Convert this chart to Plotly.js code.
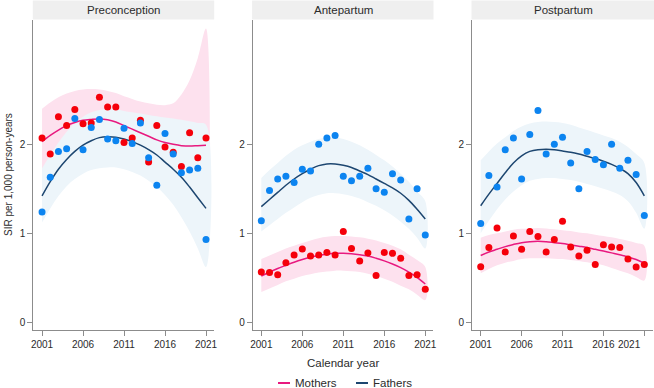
<!DOCTYPE html>
<html>
<head>
<meta charset="utf-8">
<script src="https://cdn.plot.ly/plotly-3.0.1.min.js"></script>
<style>
  html, body { margin: 0; padding: 0; background: #ffffff; overflow: hidden; }
  #chart { width: 654px; height: 388px; }
</style>
</head>
<body>
<div id="chart"></div>
<script>
// Calendar years and panel names
const years = [2001, 2002, 2003, 2004, 2005, 2006, 2007, 2008, 2009, 2010, 2011,
               2012, 2013, 2014, 2015, 2016, 2017, 2018, 2019, 2020, 2021];
const periods = ["Preconception", "Antepartum", "Postpartum"];
const xTickVals = [2001, 2006, 2011, 2016, 2021];
const xTickText = ["2001", "2006", "2011", "2016", "2021"];
const yTickVals = [0, 1, 2];

// ---- Preconception ----
const preMothersObs = [2.07, 1.89, 2.31, 2.21, 2.39, 2.23, 2.24, 2.53, 2.42, 2.42, 2.02,
                       2.07, 2.27, 1.80, 2.21, 1.97, 1.91, 1.75, 2.13, 1.85, 2.07];
const preFathersObs = [1.24, 1.63, 1.92, 1.95, 2.29, 1.94, 2.19, 2.28, 2.06, 2.04, 2.18,
                       2.01, 2.24, 1.85, 1.54, 2.12, 1.89, 1.68, 1.71, 1.73, 0.93];
const preMothersFit = [2.03, 2.10, 2.16, 2.21, 2.245, 2.27, 2.28, 2.285, 2.275, 2.25, 2.21,
                       2.17, 2.13, 2.09, 2.05, 2.02, 2.00, 1.985, 1.98, 1.985, 1.99];
const preMothersUpper = [2.40, 2.47, 2.53, 2.57, 2.60, 2.615, 2.62, 2.615, 2.60, 2.575, 2.54,
                         2.51, 2.48, 2.46, 2.445, 2.44, 2.46, 2.56, 2.72, 2.97, 3.30];
const preMothersLower = [1.68, 1.76, 1.83, 1.87, 1.90, 1.93, 1.94, 1.95, 1.95, 1.93, 1.89,
                         1.85, 1.80, 1.75, 1.69, 1.62, 1.55, 1.45, 1.30, 1.05, 0.70];
const preFathersFit = [1.42, 1.58, 1.72, 1.83, 1.92, 1.99, 2.04, 2.075, 2.085, 2.08, 2.06,
                       2.03, 1.99, 1.94, 1.88, 1.80, 1.72, 1.63, 1.52, 1.40, 1.28];
const preFathersUpper = [1.73, 1.88, 2.02, 2.14, 2.24, 2.31, 2.36, 2.385, 2.395, 2.39, 2.375,
                         2.36, 2.345, 2.33, 2.315, 2.30, 2.29, 2.275, 2.26, 2.24, 2.22];
const preFathersLower = [1.12, 1.28, 1.42, 1.53, 1.61, 1.67, 1.71, 1.73, 1.74, 1.74, 1.72,
                         1.69, 1.65, 1.59, 1.52, 1.43, 1.32, 1.18, 1.02, 0.83, 0.62];

// ---- Antepartum ----
const anteMothersObs = [0.565, 0.56, 0.535, 0.67, 0.755, 0.825, 0.745, 0.755, 0.785, 0.755, 1.02,
                        0.83, 0.69, 0.78, 0.525, 0.785, 0.775, 0.72, 0.525, 0.535, 0.37];
const anteFathersObs = [1.14, 1.48, 1.61, 1.64, 1.57, 1.72, 1.70, 2.00, 2.07, 2.10, 1.64,
                        1.59, 1.64, 1.73, 1.50, 1.46, 1.67, 1.60, 1.16, 1.50, 0.98];
const anteMothersFit = [0.52, 0.565, 0.605, 0.64, 0.675, 0.705, 0.73, 0.75, 0.765, 0.775, 0.775,
                        0.77, 0.76, 0.745, 0.72, 0.69, 0.655, 0.615, 0.565, 0.505, 0.43];
const anteMothersUpper = [0.71, 0.75, 0.79, 0.83, 0.86, 0.89, 0.92, 0.945, 0.96, 0.97, 0.97,
                          0.965, 0.955, 0.94, 0.92, 0.89, 0.86, 0.82, 0.76, 0.70, 0.62];
const anteMothersLower = [0.34, 0.38, 0.42, 0.46, 0.49, 0.52, 0.54, 0.56, 0.57, 0.58, 0.58,
                          0.575, 0.565, 0.545, 0.52, 0.49, 0.455, 0.41, 0.37, 0.31, 0.25];
const anteFathersFit = [1.30, 1.38, 1.46, 1.54, 1.61, 1.67, 1.72, 1.76, 1.78, 1.78, 1.765,
                        1.74, 1.70, 1.66, 1.61, 1.56, 1.51, 1.45, 1.37, 1.27, 1.16];
const anteFathersUpper = [1.62, 1.71, 1.79, 1.87, 1.94, 1.99, 2.03, 2.06, 2.075, 2.075, 2.06,
                          2.03, 1.99, 1.94, 1.88, 1.82, 1.75, 1.67, 1.58, 1.47, 1.36];
const anteFathersLower = [1.02, 1.09, 1.16, 1.23, 1.29, 1.35, 1.40, 1.43, 1.45, 1.45, 1.44,
                          1.42, 1.39, 1.35, 1.31, 1.26, 1.20, 1.13, 1.05, 0.95, 0.83];

// ---- Postpartum ----
const postMothersObs = [0.625, 0.84, 1.06, 0.79, 0.97, 0.82, 1.02, 0.965, 0.79, 0.93, 1.135,
                        0.845, 0.745, 0.81, 0.65, 0.87, 0.845, 0.84, 0.71, 0.62, 0.65];
const postFathersObs = [1.11, 1.65, 1.52, 1.94, 2.07, 1.61, 2.11, 2.38, 1.89, 2.00, 2.08,
                        1.79, 1.50, 1.92, 1.83, 1.77, 2.00, 1.73, 1.82, 1.66, 1.20];
const postMothersFit = [0.75, 0.79, 0.82, 0.85, 0.875, 0.895, 0.905, 0.91, 0.905, 0.895, 0.885,
                        0.87, 0.855, 0.84, 0.82, 0.80, 0.78, 0.76, 0.735, 0.705, 0.665];
const postMothersUpper = [0.95, 0.98, 1.00, 1.02, 1.04, 1.05, 1.055, 1.06, 1.055, 1.045, 1.035,
                          1.025, 1.01, 1.0, 0.985, 0.97, 0.955, 0.935, 0.915, 0.89, 0.86];
const postMothersLower = [0.55, 0.60, 0.64, 0.67, 0.69, 0.71, 0.72, 0.72, 0.72, 0.715, 0.71,
                          0.70, 0.69, 0.675, 0.66, 0.64, 0.61, 0.58, 0.55, 0.51, 0.47];
const postFathersFit = [1.31, 1.44, 1.56, 1.68, 1.79, 1.87, 1.92, 1.94, 1.945, 1.94, 1.925,
                        1.91, 1.89, 1.865, 1.84, 1.81, 1.775, 1.73, 1.67, 1.57, 1.42];
const postFathersUpper = [1.82, 1.92, 2.01, 2.08, 2.15, 2.20, 2.235, 2.25, 2.255, 2.25, 2.24,
                          2.22, 2.19, 2.16, 2.13, 2.10, 2.07, 2.03, 1.97, 1.89, 1.79];
const postFathersLower = [1.00, 1.14, 1.27, 1.38, 1.47, 1.54, 1.59, 1.61, 1.62, 1.62, 1.61,
                          1.60, 1.58, 1.555, 1.53, 1.50, 1.47, 1.43, 1.36, 1.23, 1.05];

const panels = [
  { mObs: preMothersObs, fObs: preFathersObs, mFit: preMothersFit, mUp: preMothersUpper, mLo: preMothersLower,
    fFit: preFathersFit, fUp: preFathersUpper, fLo: preFathersLower },
  { mObs: anteMothersObs, fObs: anteFathersObs, mFit: anteMothersFit, mUp: anteMothersUpper, mLo: anteMothersLower,
    fFit: anteFathersFit, fUp: anteFathersUpper, fLo: anteFathersLower },
  { mObs: postMothersObs, fObs: postFathersObs, mFit: postMothersFit, mUp: postMothersUpper, mLo: postMothersLower,
    fFit: postFathersFit, fUp: postFathersUpper, fLo: postFathersLower }
];

// Styling
const mothersLine = "#e8197f";
const fathersLine = "#1d4670";
const mothersDot = "#f5000a";
const fathersDot = "#0c84f0";
const mothersBand = "#fde1ee";
const fathersBand = "#edf5fa";
const axisColor = "#8c8c8c";
const textColor = "#2b2b2b";
const fontFamily = "Liberation Sans, Arial, Helvetica, sans-serif";

const domains = [[0.0055, 0.2952], [0.3569, 0.6466], [0.7085, 0.9976]];

function bandPolygon(lo, up) {
  return {
    x: years.concat(years.slice().reverse()),
    y: up.concat(lo.slice().reverse())
  };
}

const traces = [];
panels.forEach((p, i) => {
  const xa = i === 0 ? "x" : "x" + (i + 1);
  const ya = i === 0 ? "y" : "y" + (i + 1);
  const mb = bandPolygon(p.mLo, p.mUp);
  const fb = bandPolygon(p.fLo, p.fUp);
  traces.push({
    type: "scatter", mode: "lines", x: mb.x, y: mb.y, fill: "toself",
    fillcolor: mothersBand, line: { width: 0, shape: "spline", smoothing: 1 },
    xaxis: xa, yaxis: ya, hoverinfo: "skip", showlegend: false
  });
  traces.push({
    type: "scatter", mode: "lines", x: fb.x, y: fb.y, fill: "toself",
    fillcolor: fathersBand, line: { width: 0, shape: "spline", smoothing: 1 },
    xaxis: xa, yaxis: ya, hoverinfo: "skip", showlegend: false
  });
  traces.push({
    type: "scatter", mode: "lines", x: years, y: p.mFit, name: "Mothers",
    line: { color: mothersLine, width: 1.5, shape: "spline", smoothing: 1 },
    xaxis: xa, yaxis: ya, showlegend: false
  });
  traces.push({
    type: "scatter", mode: "lines", x: years, y: p.fFit, name: "Fathers",
    line: { color: fathersLine, width: 1.5, shape: "spline", smoothing: 1 },
    xaxis: xa, yaxis: ya, showlegend: false
  });
  traces.push({
    type: "scatter", mode: "markers", x: years, y: p.mObs,
    marker: { color: mothersDot, size: 7 },
    xaxis: xa, yaxis: ya, showlegend: false
  });
  traces.push({
    type: "scatter", mode: "markers", x: years, y: p.fObs,
    marker: { color: fathersDot, size: 7 },
    xaxis: xa, yaxis: ya, showlegend: false
  });
});

const layout = {
  width: 654, height: 388,
  margin: { l: 30, r: 0, t: 20, b: 58 },
  paper_bgcolor: "#ffffff", plot_bgcolor: "rgba(0,0,0,0)",
  font: { family: fontFamily, color: textColor, size: 10 },
  showlegend: false,
  shapes: [], annotations: []
};

domains.forEach((d, i) => {
  const sfx = i === 0 ? "" : String(i + 1);
  // the last label of the right-most panel sits against the page edge, so it
  // is written as an annotation instead of an axis tick label
  const tickText = i === 2 ? xTickText.slice(0, -1).concat([""]) : xTickText;
  layout["xaxis" + sfx] = {
    domain: d, range: [1999.95, 2022.0], anchor: "y" + sfx,
    tickvals: xTickVals, ticktext: tickText, ticks: "outside", ticklen: 5, tickcolor: axisColor,
    showline: true, linecolor: axisColor, linewidth: 1,
    showgrid: false, zeroline: false, tickfont: { size: 10, color: textColor }
  };
  layout["yaxis" + sfx] = {
    domain: [0, 1], range: [-0.0865, 3.3966], anchor: "x" + sfx,
    tickvals: yTickVals, ticks: "outside", ticklen: 5, tickcolor: axisColor,
    showline: true, linecolor: axisColor, linewidth: 1,
    showgrid: false, zeroline: false, tickfont: { size: 10, color: textColor }
  };
  // strip header
  layout.shapes.push({
    type: "rect", xref: "paper", yref: "paper",
    x0: d[0] - 0.001, x1: i === 2 ? 1.0 : d[1], y0: 1.002, y1: 1 + 19.5 / 310,
    fillcolor: "#efefef", line: { width: 0 }, layer: "below"
  });
  layout.annotations.push({
    xref: "paper", yref: "paper", x: (d[0] + (i === 2 ? 1.0 : d[1])) / 2, y: 1 + 10 / 310,
    text: periods[i], showarrow: false, xanchor: "center", yanchor: "middle",
    font: { size: 11.5, color: textColor }
  });
});

layout.annotations.push({
  xref: "paper", yref: "paper", x: 0.982, y: -14.5 / 310,
  text: xTickText[xTickText.length - 1], showarrow: false, xanchor: "right", yanchor: "middle",
  font: { size: 10, color: textColor }
});

// axis titles
layout.annotations.push({
  xref: "paper", yref: "paper", x: (domains[1][0] + domains[1][1]) / 2, y: -33 / 310,
  text: "Calendar year", showarrow: false, xanchor: "center", yanchor: "middle",
  font: { size: 11.5, color: textColor }
});
layout.annotations.push({
  xref: "paper", yref: "paper", x: -22 / 624, y: 0.5,
  text: "SIR per 1,000 person-years", textangle: -90, showarrow: false,
  xanchor: "center", yanchor: "middle", font: { size: 10, color: textColor }
});

// legend keys
const legendY = -53 / 310;
const legendItems = [
  { label: "Mothers", color: mothersLine, x0: 278 },
  { label: "Fathers", color: fathersLine, x0: 356 }
];
legendItems.forEach(item => {
  layout.shapes.push({
    type: "line", xref: "paper", yref: "paper",
    x0: (item.x0 - 30) / 624, x1: (item.x0 + 12 - 30) / 624, y0: legendY, y1: legendY,
    line: { color: item.color, width: 2 }
  });
  layout.annotations.push({
    xref: "paper", yref: "paper", x: (item.x0 + 15 - 30) / 624, y: legendY,
    text: item.label, showarrow: false, xanchor: "left", yanchor: "middle",
    font: { size: 11.5, color: textColor }
  });
});

Plotly.newPlot("chart", traces, layout, { displayModeBar: false, staticPlot: true });
</script>
</body>
</html>
